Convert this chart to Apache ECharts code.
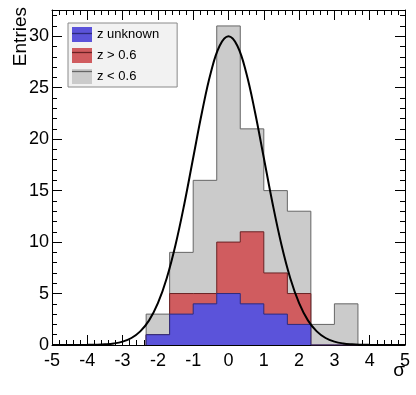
<!DOCTYPE html>
<html>
<head>
<meta charset="utf-8">
<script src="https://cdn.jsdelivr.net/npm/echarts@6/dist/echarts.min.js"></script>
<style>
  html, body { margin: 0; padding: 0; background: #fff; }
  #chart { width: 416px; height: 395px; }
</style>
</head>
<body>
<div id="chart"></div>
<script>
// bin edges of the sigma histograms (width 2/3)
const binEdges = [-2.333, -1.667, -1, -0.333, 0.333, 1, 1.667, 2.333, 3, 3.667];
// entries per bin, one array per stack layer
const zUnknown = [1, 3, 4, 5, 4, 3, 2, 0, 0];
const zHigh    = [0, 2, 1, 5, 7, 4, 3, 0, 0];
const zLow     = [2, 4, 11, 21, 10, 8, 8, 2, 4];
const seriesNames = ['z unknown', 'z > 0.6', 'z < 0.6'];

// fitted gaussian
const curveX = [-5, -4.75, -4.5, -4.25, -4, -3.75, -3.5, -3.25, -3, -2.75, -2.5, -2.25, -2, -1.75, -1.5, -1.25, -1, -0.75, -0.5, -0.25,
  0, 0.25, 0.5, 0.75, 1, 1.25, 1.5, 1.75, 2, 2.25, 2.5, 2.75, 3, 3.25, 3.5, 3.75, 4, 4.25, 4.5, 4.75, 5];
const curveY = [0, 0, 0, 0, 0.01, 0.03, 0.07, 0.15, 0.33, 0.68, 1.32, 2.39, 4.06, 6.49, 9.74, 13.73, 18.2, 22.64, 26.48, 29.08,
  30, 29.08, 26.48, 22.64, 18.2, 13.73, 9.74, 6.49, 4.06, 2.39, 1.32, 0.68, 0.33, 0.15, 0.07, 0.03, 0.01, 0, 0, 0, 0];

const xTicks = [-5, 5, 1];
const yTicks = [0, 32.55, 5];

// cumulative stacks, as THStack draws them
function cumulate(layers) {
  let sum = binEdges.slice(1).map(() => 0);
  return layers.map(l => { sum = sum.map((s, i) => s + l[i]); return sum; });
}
const stacks = cumulate([zUnknown, zHigh, zLow]);

function stepPoints(vals) {
  const pts = [[binEdges[0], 0]];
  vals.forEach((v, i) => pts.push([binEdges[i], v]));
  pts.push([binEdges[binEdges.length - 1], 0]);
  return pts;
}

const fills = ['#5b53da', '#d05c5f', '#cbcbcb'];
const lines = ['#2d2a7c', '#6a2224', '#666666'];

const font = 'Liberation Sans, Arial, Helvetica, sans-serif';

const chart = echarts.init(document.getElementById('chart'));

const histSeries = [2, 1, 0].map(k => ({
  name: seriesNames[k],
  type: 'line',
  step: 'end',
  symbol: 'none',
  z: 2 + (2 - k),
  data: stepPoints(stacks[k]),
  itemStyle: { color: fills[k] },
  lineStyle: { color: lines[k], width: 1 },
  areaStyle: { color: fills[k], opacity: 1 },
  animation: false
}));

const xAxisBase = {
  type: 'value',
  min: xTicks[0], max: xTicks[1], interval: xTicks[2],
  splitLine: { show: false },
  nameMoveOverlap: false,
  axisLine: { show: true, onZero: false, lineStyle: { color: '#000', width: 1 } },
  axisTick: { show: true, inside: true, length: 10, lineStyle: { color: '#000' } },
  minorTick: { show: true, splitNumber: 5, length: 5, lineStyle: { color: '#000' } }
};
const yAxisBase = {
  type: 'value',
  min: yTicks[0], max: yTicks[1], interval: yTicks[2],
  splitLine: { show: false },
  nameMoveOverlap: false,
  axisLine: { show: true, onZero: false, lineStyle: { color: '#000', width: 1 } },
  axisTick: { show: true, inside: true, length: 10, lineStyle: { color: '#000' } },
  minorTick: { show: true, splitNumber: 5, length: 5, lineStyle: { color: '#000' } }
};

const legendBase = {
  orient: 'vertical',
  left: 68, top: 23,
  itemWidth: 20, itemHeight: 15, itemGap: 6,
  padding: [4, 18, 3, 4],
  selectedMode: false,
  data: seriesNames
};

const option = {
  animation: false,
  grid: { left: 52, right: 11, top: 10, bottom: 50, containLabel: false, outerBoundsMode: 'none' },
  xAxis: [
    Object.assign({}, xAxisBase, {
      position: 'bottom',
      name: 'σ',
      nameLocation: 'end',
      nameGap: 0,
      nameTextStyle: { fontFamily: font, fontSize: 19, color: '#000', align: 'right', verticalAlign: 'top', padding: [16, 0, 0, 0] },
      axisLabel: { show: true, margin: 7, fontFamily: font, fontSize: 18, color: '#000' }
    }),
    Object.assign({}, xAxisBase, { position: 'top', axisLabel: { show: false } })
  ],
  yAxis: [
    Object.assign({}, yAxisBase, {
      position: 'left',
      name: 'Entries',
      nameLocation: 'end',
      nameRotate: 90,
      nameGap: 3,
      nameTextStyle: { fontFamily: font, fontSize: 19, color: '#000', align: 'right', verticalAlign: 'bottom', padding: [0, 0, 22, 0] },
      axisLabel: {
        show: true, margin: 3, fontFamily: font, fontSize: 18, color: '#000',
        formatter: v => (v % 5 === 0 ? String(v) : '')
      }
    }),
    Object.assign({}, yAxisBase, { position: 'right', axisLabel: { show: false } })
  ],
  legend: [
    Object.assign({}, legendBase, {
      icon: 'rect',
      backgroundColor: '#f2f2f2',
      borderColor: '#8a8a8a',
      borderWidth: 1,
      borderRadius: 0,
      textStyle: { fontFamily: font, fontSize: 13, color: '#000' },
      data: seriesNames.map((n, k) => ({ name: n, itemStyle: { color: fills[k] } }))
    }),
    Object.assign({}, legendBase, {
      icon: 'path://M0,0H20V1.3H0Z',
      symbolKeepAspect: true,
      formatter: ' ',
      textStyle: { fontFamily: font, fontSize: 13, color: '#000' },
      data: seriesNames.map((n, k) => ({ name: n, itemStyle: { color: lines[k] } }))
    })
  ],
  series: histSeries.concat([{
    name: 'fit',
    type: 'line',
    smooth: 0.4,
    symbol: 'none',
    z: 10,
    data: curveX.map((x, i) => [x, curveY[i]]),
    lineStyle: { color: '#000', width: 2 },
    itemStyle: { color: '#000' }
  }])
};

chart.setOption(option);

window.addEventListener('resize', function () {
  chart.resize();
});
</script>
</body>
</html>
